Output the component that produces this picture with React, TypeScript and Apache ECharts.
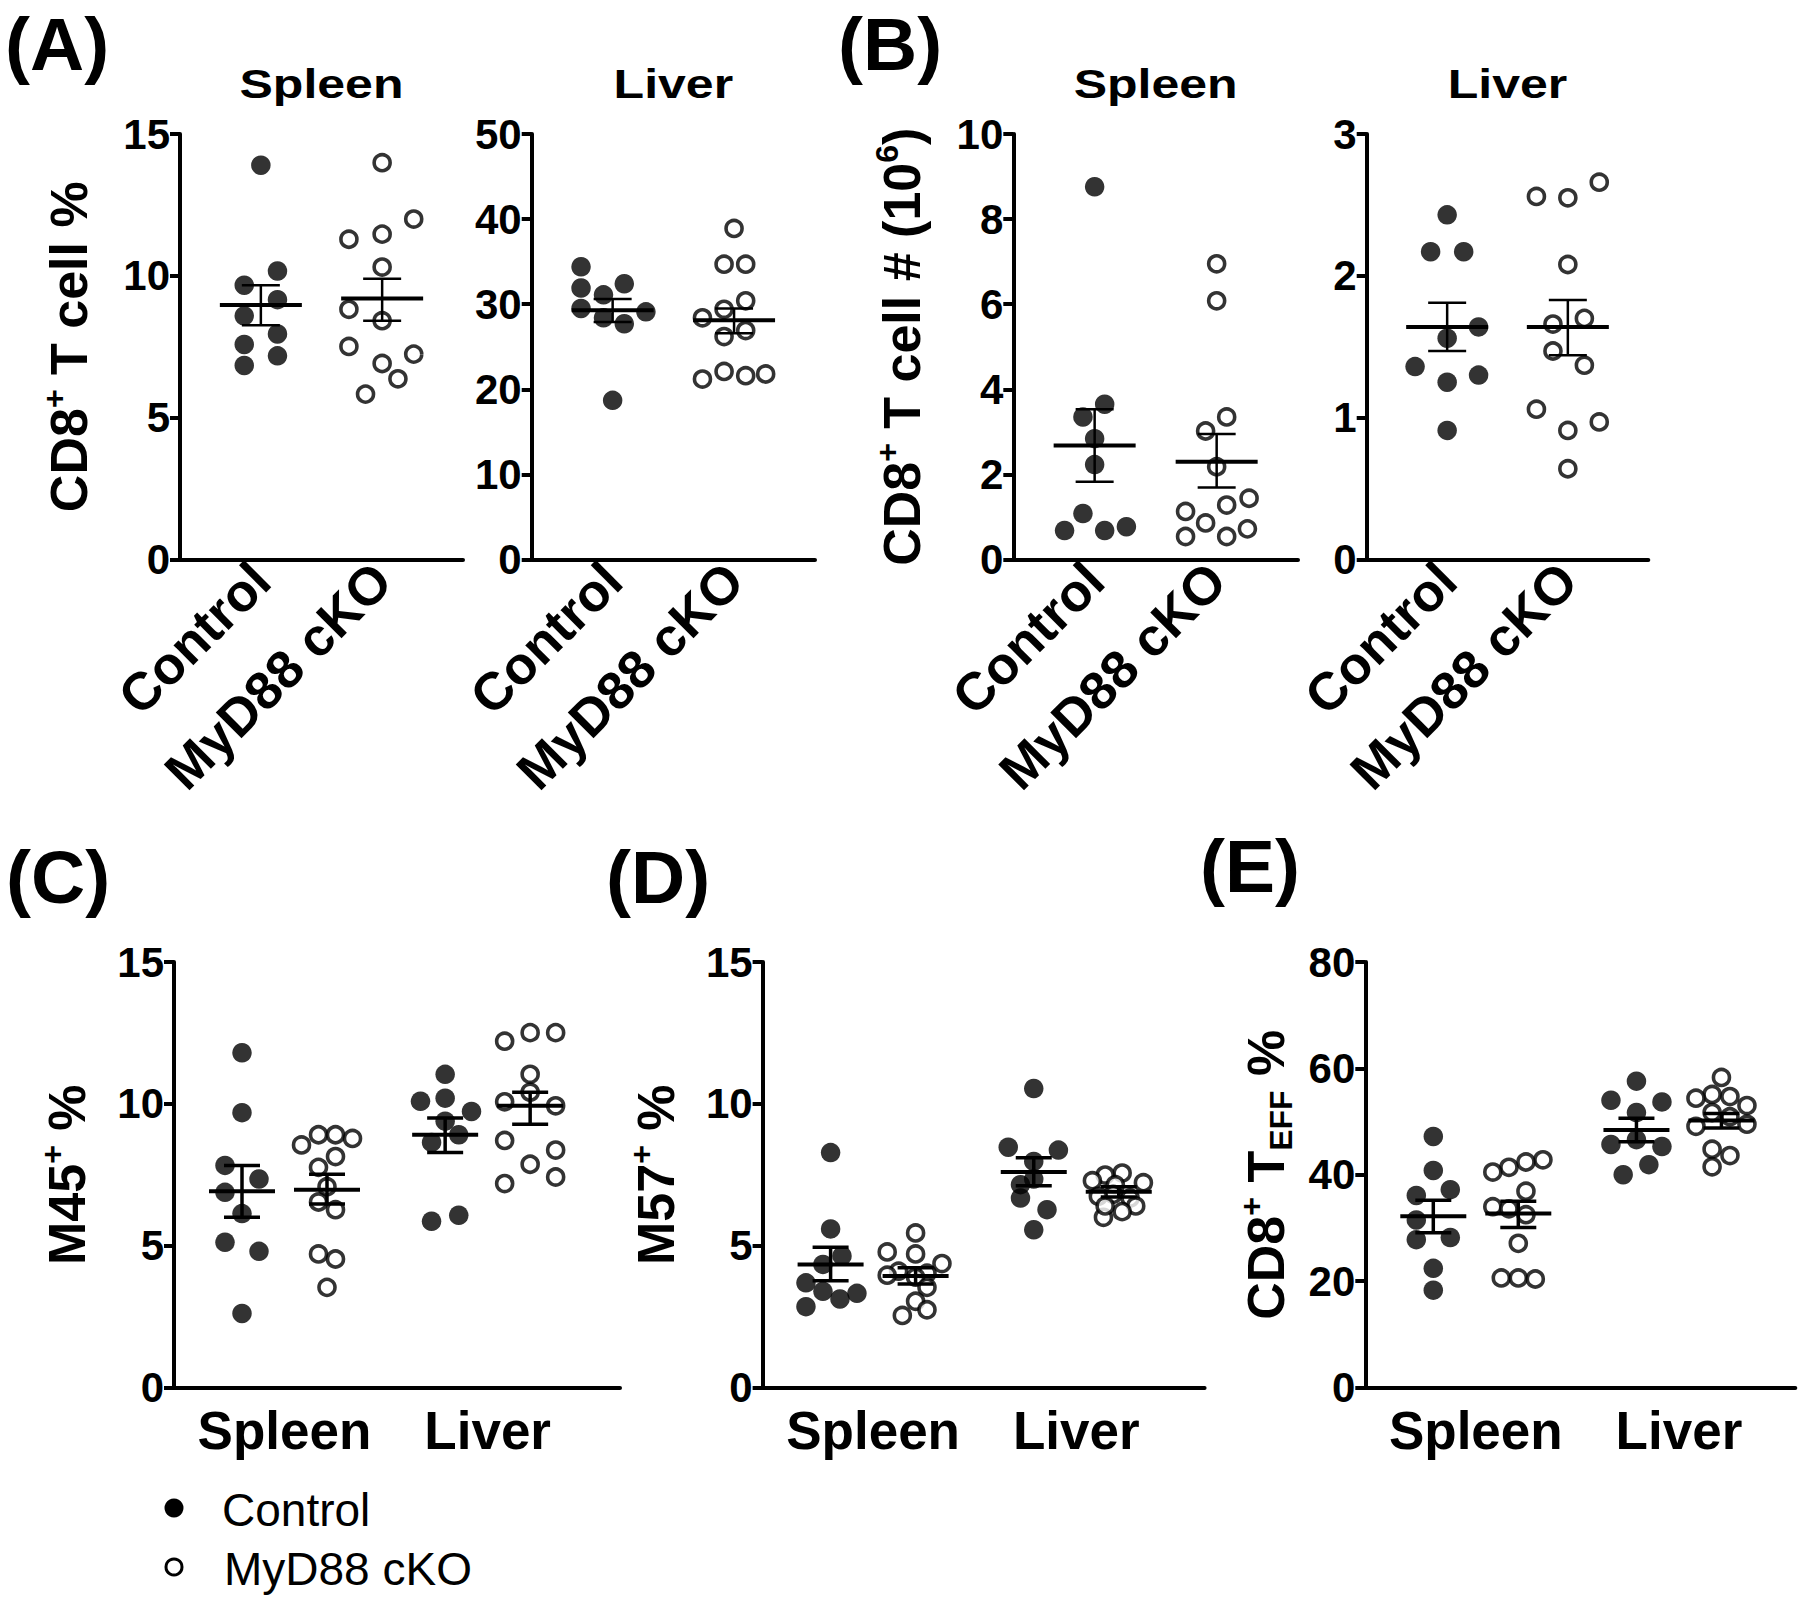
import { useEffect, useRef } from "react";
import * as echarts from "echarts";

const FONT = "'Liberation Sans', Arial, Helvetica, sans-serif";

// ---------------- categories / tick labels ----------------
const GENOTYPES = ["Control", "MyD88 cKO"];
const ORGANS = ["Spleen", "Liver"];

// ---------------- (A) CD8+ T cell % ----------------
const A_SPLEEN_CTRL = [13.9, 10.17, 9.67, 9.16, 8.59, 7.95, 7.58, 7.18, 6.84];
const A_SPLEEN_CTRL_JIT = [0, 1, -1, 1, -1, 1, -1, 1, -1];
const A_SPLEEN_KO = [13.99, 12.0, 11.47, 11.29, 10.31, 8.82, 8.42, 7.51, 7.24, 6.91, 6.37, 5.83];
const A_SPLEEN_KO_JIT = [0, 1.9, 0, -2, 0, -2, 0, -2, 1.9, 0, 0.95, -1];
const A_SPLEEN_MEAN = [8.97, 9.2];
const A_SPLEEN_LO = [8.26, 8.42];
const A_SPLEEN_HI = [9.67, 9.9];

const A_LIVER_CTRL = [34.4, 32.4, 31.9, 31.1, 29.5, 29.1, 28.4, 27.7, 18.7];
const A_LIVER_CTRL_JIT = [-1.9, 0.7, -1.9, -0.55, -1.9, 2.0, -0.55, 0.7, 0];
const A_LIVER_KO = [38.9, 34.7, 34.7, 30.4, 29.4, 28.4, 26.9, 26.2, 22.1, 21.8, 21.6, 21.2];
const A_LIVER_KO_JIT = [0, -0.6, 0.7, 0.7, -0.6, -1.9, 0.7, -0.6, -0.6, 1.9, 0.7, -1.9];
const A_LIVER_MEAN = [29.3, 28.1];
const A_LIVER_LO = [27.9, 26.6];
const A_LIVER_HI = [30.6, 29.5];

// ---------------- (B) CD8+ T cell # (10^6) ----------------
const B_SPLEEN_CTRL = [8.76, 3.65, 3.35, 2.84, 2.23, 1.08, 0.77, 0.68, 0.68];
const B_SPLEEN_CTRL_JIT = [0, 0.6, -0.7, 0, 0, -0.7, 1.9, -1.8, 0.6];
const B_SPLEEN_KO = [6.95, 6.08, 3.35, 3.02, 2.18, 1.44, 1.28, 1.13, 0.86, 0.72, 0.54, 0.54];
const B_SPLEEN_KO_JIT = [0, 0, 0.6, -0.66, 0, 1.94, 0.6, -1.86, -0.66, 1.84, -1.86, 0.6];
const B_SPLEEN_MEAN = [2.68, 2.3];
const B_SPLEEN_LO = [1.83, 1.69];
const B_SPLEEN_HI = [3.53, 2.95];

const B_LIVER_CTRL = [2.43, 2.17, 2.17, 1.64, 1.56, 1.36, 1.3, 1.25, 0.91];
const B_LIVER_CTRL_JIT = [0, -1, 1, 1.9, 0, -1.94, 1.9, 0, 0];
const B_LIVER_KO = [2.66, 2.56, 2.55, 2.08, 1.7, 1.66, 1.47, 1.37, 1.06, 0.97, 0.91, 0.64];
const B_LIVER_KO_JIT = [1.9, -1.9, 0, 0, 1, -0.9, -0.9, 1, -1.9, 1.9, 0, 0];
const B_LIVER_MEAN = [1.64, 1.64];
const B_LIVER_LO = [1.47, 1.44];
const B_LIVER_HI = [1.81, 1.83];

// ---------------- (C) M45+ % : spleen ctrl, spleen KO, liver ctrl, liver KO ----------------
const C_SPLEEN_CTRL = [11.8, 9.69, 7.83, 7.35, 6.88, 6.13, 5.12, 4.8, 2.61];
const C_SPLEEN_CTRL_JIT = [0, 0, -1, 1, -1, 0, -1, 1, 0];
const C_SPLEEN_KO = [8.91, 8.91, 8.78, 8.55, 8.14, 7.76, 7.08, 6.54, 6.27, 4.71, 4.53, 3.53];
const C_SPLEEN_KO_JIT = [-0.5, 0.5, 1.5, -1.5, 0.5, -0.5, 0, -0.5, 0.5, -0.5, 0.5, 0];
const C_LIVER_CTRL = [11.04, 10.09, 10.2, 9.73, 9.39, 8.91, 8.64, 6.07, 5.86];
const C_LIVER_CTRL_JIT = [0, -1.45, 0, 1.55, 0, 0.8, -0.8, 0.8, -0.8];
const C_LIVER_KO = [12.51, 12.51, 12.21, 11.04, 10.41, 10.07, 9.93, 8.71, 8.37, 7.87, 7.42, 7.19];
const C_LIVER_KO_JIT = [0, 1.5, -1.5, 0, 0, -1.5, 1.5, -1.5, 1.5, 0, 1.5, -1.5];
const C_MEAN = [6.92, 6.97, 8.91, 9.93];
const C_LO = [6.0, 6.47, 8.28, 9.28];
const C_HI = [7.83, 7.52, 9.5, 10.41];

// ---------------- (D) M57+ % ----------------
const D_SPLEEN_CTRL = [8.28, 5.59, 4.64, 4.34, 3.69, 3.39, 3.32, 3.12, 2.85];
const D_SPLEEN_CTRL_JIT = [0, 0, 0.67, -0.45, -1.45, -0.45, 1.55, 0.55, -1.45];
const D_SPLEEN_KO = [5.45, 4.78, 4.71, 4.37, 4.1, 4.03, 3.96, 3.89, 3.53, 3.04, 2.74, 2.54];
const D_SPLEEN_KO_JIT = [0, -1.67, 0, 1.55, -1, 0.67, -1.67, 0, 0.67, 0, 0.67, -0.78];
const D_LIVER_CTRL = [10.54, 8.47, 8.37, 7.97, 7.35, 7.15, 6.68, 6.27, 5.56];
const D_LIVER_CTRL_JIT = [0, -1.5, 1.45, 0, 0, -0.78, -0.78, 0.78, 0];
const D_LIVER_KO = [7.56, 7.49, 7.29, 7.22, 7.15, 6.81, 6.74, 6.68, 6.4, 6.2, 6.0, 6.4];
const D_LIVER_KO_JIT = [0.2, -0.8, -1.55, 1.45, -0.2, -0.33, -1.2, 0.67, 1, 0.2, -0.9, -0.8];
const D_MEAN = [4.34, 3.93, 7.6, 6.9];
const D_LO = [3.76, 3.65, 7.11, 6.72];
const D_HI = [4.94, 4.22, 8.1, 7.08];

// ---------------- (E) CD8+ T_EFF % ----------------
const E_SPLEEN_CTRL = [47.2, 40.8, 37.2, 36.1, 31.5, 28.2, 27.8, 22.4, 18.3];
const E_SPLEEN_CTRL_JIT = [0, 0, 1, -1, -1, 1, -1, 0, 0];
const E_SPLEEN_KO = [42.8, 42.4, 41.4, 40.5, 36.9, 34.0, 33.6, 32.5, 27.1, 20.6, 20.6, 20.4];
const E_SPLEEN_KO_JIT = [1.45, 0.45, -0.55, -1.5, 0.45, -1.5, -0.55, 0.45, 0, -1, 0, 1];
const E_LIVER_CTRL = [57.6, 54.0, 53.7, 51.7, 46.6, 45.7, 45.3, 41.9, 40.0];
const E_LIVER_CTRL_JIT = [0, -1.5, 1.5, 0, 0, -1.5, 1.5, 0.73, -0.78];
const E_LIVER_KO = [58.3, 55.1, 54.4, 54.7, 53.0, 51.7, 50.9, 49.5, 49.1, 44.8, 43.6, 41.5];
const E_LIVER_KO_JIT = [0, -0.55, -1.5, 0.5, 1.5, -0.55, 0.5, 1.5, -1.5, -0.55, 0.5, -0.55];
const E_MEAN = [32.2, 32.7, 48.4, 50.2];
const E_LO = [29.1, 30.1, 46.2, 48.8];
const E_HI = [35.2, 35.0, 50.6, 51.5];

// ---------------- layout (not data) ----------------
const ROW1 = { top: 134, height: 425.5 };
const ROW2 = { top: 962, height: 425.5 };
const R2_UNIT = 85; // px between control and KO columns in row 2

type Group = { pos: number; vals: number[]; jit: number[]; filled: boolean; mean: number; lo: number; hi: number };
type Panel = {
  box: number[];
  xMin: number;
  xMax: number;
  step: number;
  labelAt: number[];
  labels: string[];
  rotate: number;
  labelMargin: number;
  yMax: number;
  yInterval: number;
  yName: string;
  nameGap: number;
  meanW: number;
  capW: number;
  errW: number;
  groups: Group[];
  title?: string;
};

function pair(
  ctrl: number[], ctrlJit: number[], ko: number[], koJit: number[],
  mean: number[], lo: number[], hi: number[], p0: number, p1: number, off = 0
): Group[] {
  return [
    { pos: p0, vals: ctrl, jit: ctrlJit, filled: true, mean: mean[off], lo: lo[off], hi: hi[off] },
    { pos: p1, vals: ko, jit: koJit, filled: false, mean: mean[off + 1], lo: lo[off + 1], hi: hi[off + 1] },
  ];
}

const R1X = { xMin: 1 / 3, xMax: 8 / 3, step: 0.137 };
const r2x = (w: number) => ({ xMin: 0.2, xMax: 0.2 + w / R2_UNIT, step: 0.2 });
const R2POS = [1, 2, 3.39, 4.39];

const PANELS: Panel[] = [
  {
    box: [180, ROW1.top, 283, ROW1.height], ...R1X,
    labelAt: [1, 2], labels: GENOTYPES, rotate: 45, labelMargin: 12,
    yMax: 15, yInterval: 5, yName: "{n|CD8}{s|+}{n| T cell %}", nameGap: 80,
    meanW: 82, capW: 38, errW: 2.5, title: "Spleen",
    groups: pair(A_SPLEEN_CTRL, A_SPLEEN_CTRL_JIT, A_SPLEEN_KO, A_SPLEEN_KO_JIT, A_SPLEEN_MEAN, A_SPLEEN_LO, A_SPLEEN_HI, 1, 2),
  },
  {
    box: [531.7, ROW1.top, 283.3, ROW1.height], ...R1X,
    labelAt: [1, 2], labels: GENOTYPES, rotate: 45, labelMargin: 12,
    yMax: 50, yInterval: 10, yName: "", nameGap: 0,
    meanW: 82, capW: 38, errW: 2.5, title: "Liver",
    groups: pair(A_LIVER_CTRL, A_LIVER_CTRL_JIT, A_LIVER_KO, A_LIVER_KO_JIT, A_LIVER_MEAN, A_LIVER_LO, A_LIVER_HI, 1, 2),
  },
  {
    box: [1013.3, ROW1.top, 284.7, ROW1.height], ...R1X,
    labelAt: [1, 2], labels: GENOTYPES, rotate: 45, labelMargin: 12,
    yMax: 10, yInterval: 2, yName: "{n|CD8}{s|+}{n| T cell # (10}{s|6}{n|)}", nameGap: 80,
    meanW: 82, capW: 38, errW: 2.5, title: "Spleen",
    groups: pair(B_SPLEEN_CTRL, B_SPLEEN_CTRL_JIT, B_SPLEEN_KO, B_SPLEEN_KO_JIT, B_SPLEEN_MEAN, B_SPLEEN_LO, B_SPLEEN_HI, 1, 2),
  },
  {
    box: [1366.7, ROW1.top, 281.6, ROW1.height], ...R1X,
    labelAt: [1, 2], labels: GENOTYPES, rotate: 45, labelMargin: 12,
    yMax: 3, yInterval: 1, yName: "", nameGap: 0,
    meanW: 82, capW: 38, errW: 2.5, title: "Liver",
    groups: pair(B_LIVER_CTRL, B_LIVER_CTRL_JIT, B_LIVER_KO, B_LIVER_KO_JIT, B_LIVER_MEAN, B_LIVER_LO, B_LIVER_HI, 1, 2),
  },
  {
    box: [174, ROW2.top, 446, ROW2.height], ...r2x(446),
    labelAt: [1.5, 3.89], labels: ORGANS, rotate: 0, labelMargin: 16,
    yMax: 15, yInterval: 5, yName: "{n|M45}{s|+}{n| %}", nameGap: 76,
    meanW: 66, capW: 36, errW: 3.5,
    groups: [
      ...pair(C_SPLEEN_CTRL, C_SPLEEN_CTRL_JIT, C_SPLEEN_KO, C_SPLEEN_KO_JIT, C_MEAN, C_LO, C_HI, R2POS[0], R2POS[1], 0),
      ...pair(C_LIVER_CTRL, C_LIVER_CTRL_JIT, C_LIVER_KO, C_LIVER_KO_JIT, C_MEAN, C_LO, C_HI, R2POS[2], R2POS[3], 2),
    ],
  },
  {
    box: [762.6, ROW2.top, 442, ROW2.height], ...r2x(442),
    labelAt: [1.5, 3.89], labels: ORGANS, rotate: 0, labelMargin: 16,
    yMax: 15, yInterval: 5, yName: "{n|M57}{s|+}{n| %}", nameGap: 76,
    meanW: 66, capW: 36, errW: 3.5,
    groups: [
      ...pair(D_SPLEEN_CTRL, D_SPLEEN_CTRL_JIT, D_SPLEEN_KO, D_SPLEEN_KO_JIT, D_MEAN, D_LO, D_HI, R2POS[0], R2POS[1], 0),
      ...pair(D_LIVER_CTRL, D_LIVER_CTRL_JIT, D_LIVER_KO, D_LIVER_KO_JIT, D_MEAN, D_LO, D_HI, R2POS[2], R2POS[3], 2),
    ],
  },
  {
    box: [1365.3, ROW2.top, 430, ROW2.height], ...r2x(430),
    labelAt: [1.5, 3.89], labels: ORGANS, rotate: 0, labelMargin: 16,
    yMax: 80, yInterval: 20, yName: "{n|CD8}{s|+}{n| T}{b|EFF}{n| %}", nameGap: 68,
    meanW: 66, capW: 36, errW: 3.5,
    groups: [
      ...pair(E_SPLEEN_CTRL, E_SPLEEN_CTRL_JIT, E_SPLEEN_KO, E_SPLEEN_KO_JIT, E_MEAN, E_LO, E_HI, R2POS[0], R2POS[1], 0),
      ...pair(E_LIVER_CTRL, E_LIVER_CTRL_JIT, E_LIVER_KO, E_LIVER_KO_JIT, E_MEAN, E_LO, E_HI, R2POS[2], R2POS[3], 2),
    ],
  },
];

const LETTERS = [
  { t: "(A)", x: 5, y: 44 },
  { t: "(B)", x: 838, y: 44 },
  { t: "(C)", x: 6, y: 877 },
  { t: "(D)", x: 606, y: 877 },
  { t: "(E)", x: 1200, y: 866 },
];

const NAME_RICH = {
  n: { fontSize: 52, fontWeight: "bold", fontFamily: FONT, color: "#000", lineHeight: 62, verticalAlign: "middle" },
  s: { fontSize: 32, fontWeight: "bold", fontFamily: FONT, color: "#000", lineHeight: 32, verticalAlign: "top" },
  b: { fontSize: 32, fontWeight: "bold", fontFamily: FONT, color: "#000", lineHeight: 32, verticalAlign: "bottom" },
};

function buildOption() {
  const grid: any[] = [];
  const xAxis: any[] = [];
  const yAxis: any[] = [];
  const series: any[] = [];
  const graphic: any[] = [];

  PANELS.forEach((p, i) => {
    grid.push({ left: p.box[0], top: p.box[1], width: p.box[2], height: p.box[3], containLabel: false });
    xAxis.push({
      type: "value",
      gridIndex: i,
      min: p.xMin,
      max: p.xMax,
      axisLine: { show: true, onZero: false, lineStyle: { color: "#000", width: 4 } },
      axisTick: { show: false },
      splitLine: { show: false },
      axisLabel: {
        customValues: p.labelAt,
        formatter: (v: number) => {
          let best = 0;
          p.labelAt.forEach((a, k) => {
            if (Math.abs(a - v) < Math.abs(p.labelAt[best] - v)) best = k;
          });
          return p.labels[best];
        },
        rotate: p.rotate,
        margin: p.labelMargin,
        fontSize: 53,
        fontWeight: "bold",
        fontFamily: FONT,
        color: "#000",
      },
    });
    yAxis.push({
      type: "value",
      gridIndex: i,
      min: 0,
      max: p.yMax,
      interval: p.yInterval,
      axisLine: { show: true, onZero: false, lineStyle: { color: "#000", width: 4 } },
      axisTick: { show: true, inside: false, length: 10, lineStyle: { color: "#000", width: 4 } },
      splitLine: { show: false },
      axisLabel: { fontSize: 42, fontWeight: "bold", fontFamily: FONT, color: "#000", margin: 10 },
      name: p.yName,
      nameLocation: "middle",
      nameRotate: 90,
      nameGap: p.nameGap,
      nameTextStyle: { fontFamily: FONT, color: "#000", rich: NAME_RICH },
    });

    p.groups.forEach((g) => {
      series.push({
        type: "scatter",
        name: g.filled ? GENOTYPES[0] : GENOTYPES[1],
        xAxisIndex: i,
        yAxisIndex: i,
        symbol: "circle",
        symbolSize: g.filled ? 19.5 : 16,
        itemStyle: g.filled
          ? { color: "#000" }
          : { color: "#fff", borderColor: "#000", borderWidth: 3.6 },
        emphasis: { disabled: true },
        z: 2,
        data: g.vals.map((v, k) => [g.pos + g.jit[k] * p.step, v]),
      });
    });

    series.push({
      type: "custom",
      xAxisIndex: i,
      yAxisIndex: i,
      silent: true,
      z: 5,
      data: p.groups.map((g) => [g.pos, g.mean, g.lo, g.hi]),
      renderItem: (_params: any, api: any) => {
        const x = api.value(0);
        const pm = api.coord([x, api.value(1)]);
        const pl = api.coord([x, api.value(2)]);
        const ph = api.coord([x, api.value(3)]);
        const st = { stroke: "#000", lineWidth: p.errW };
        return {
          type: "group",
          children: [
            { type: "line", shape: { x1: pm[0] - p.meanW / 2, y1: pm[1], x2: pm[0] + p.meanW / 2, y2: pm[1] }, style: { stroke: "#000", lineWidth: 4 } },
            { type: "line", shape: { x1: pm[0], y1: ph[1], x2: pm[0], y2: pl[1] }, style: st },
            { type: "line", shape: { x1: pm[0] - p.capW / 2, y1: ph[1], x2: pm[0] + p.capW / 2, y2: ph[1] }, style: st },
            { type: "line", shape: { x1: pm[0] - p.capW / 2, y1: pl[1], x2: pm[0] + p.capW / 2, y2: pl[1] }, style: st },
          ],
        };
      },
    });

    if (p.title) {
      graphic.push({
        type: "text",
        x: p.box[0] + p.box[2] / 2,
        y: 84,
        scaleX: 1.22,
        silent: true,
        style: { text: p.title, fill: "#000", font: `bold 41px ${FONT}`, textAlign: "center", textVerticalAlign: "middle" },
      });
    }
  });

  LETTERS.forEach((l) => {
    graphic.push({
      type: "text",
      x: l.x,
      y: l.y,
      silent: true,
      style: { text: l.t, fill: "#000", font: `bold 75px ${FONT}`, textAlign: "left", textVerticalAlign: "middle" },
    });
  });

  // legend
  graphic.push(
    { type: "circle", silent: true, shape: { cx: 174, cy: 1508, r: 9.5 }, style: { fill: "#000" } },
    { type: "circle", silent: true, shape: { cx: 174, cy: 1567, r: 8 }, style: { fill: "#fff", stroke: "#000", lineWidth: 3 } },
    { type: "text", silent: true, x: 222, y: 1510, style: { text: GENOTYPES[0], fill: "#000", font: `46px ${FONT}`, textAlign: "left", textVerticalAlign: "middle" } },
    { type: "text", silent: true, x: 224, y: 1569, style: { text: GENOTYPES[1], fill: "#000", font: `46px ${FONT}`, textAlign: "left", textVerticalAlign: "middle" } }
  );

  return {
    animation: false,
    backgroundColor: "#fff",
    grid,
    xAxis,
    yAxis,
    series,
    graphic,
  };
}

export default function App() {
  const ref = useRef<HTMLDivElement>(null);
  useEffect(() => {
    if (!ref.current) return;
    const chart = echarts.init(ref.current, undefined, { renderer: "svg" });
    chart.setOption(buildOption() as any);
    return () => chart.dispose();
  }, []);
  return (
    <div
      ref={ref}
      style={{ position: "fixed", left: 0, top: 0, width: 1800, height: 1601, background: "#fff" }}
    />
  );
}
